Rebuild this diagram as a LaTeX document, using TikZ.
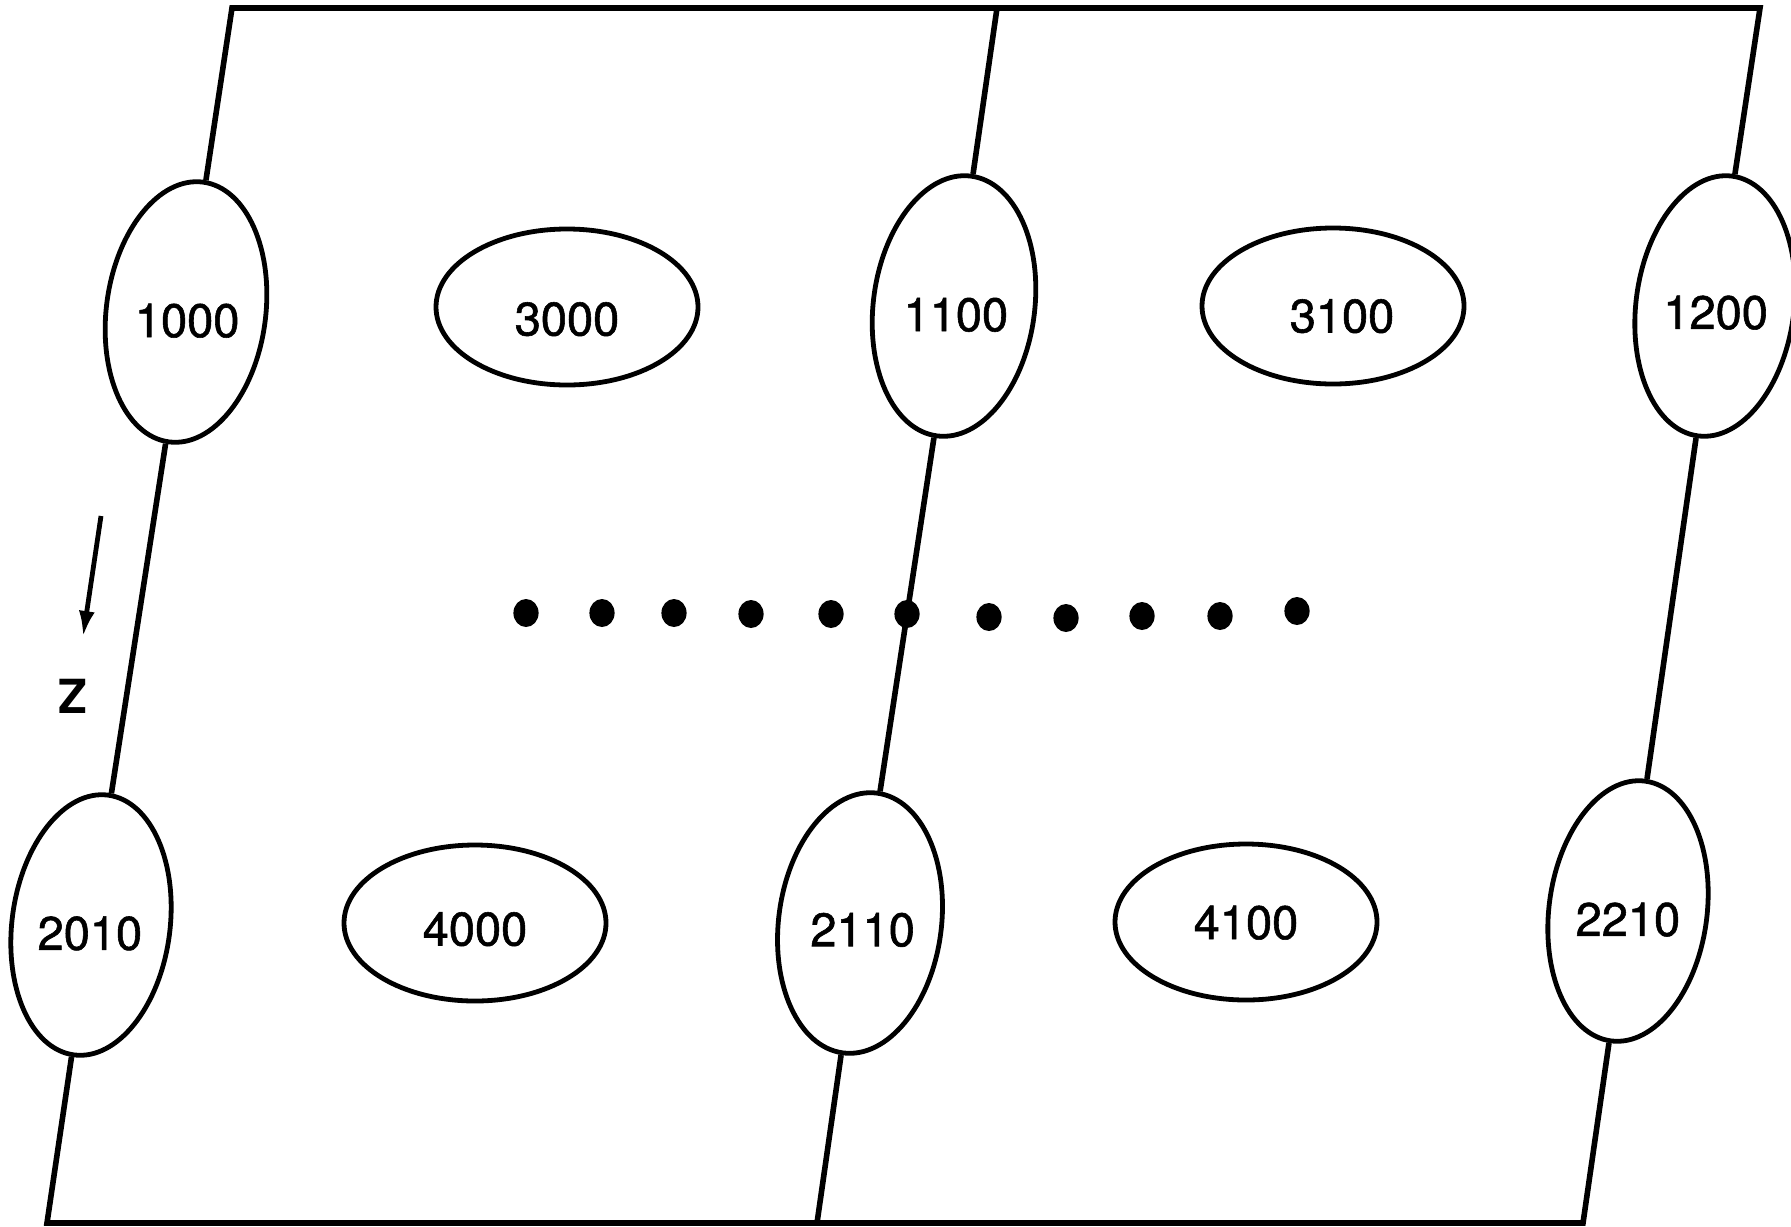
\documentclass[tikz,border=0pt]{standalone}
\usepackage{fontspec}
\setmainfont{TeX Gyre Heros}
\newfontfamily\ringfont[FakeBold=1.2]{TeX Gyre Heros}
\usetikzlibrary{arrows.meta,shapes.geometric}

% keep the numbers upright inside the tilted rings (optional nudge right)
\newcommand{\levelnum}[2][0pt]{\hspace{#1}\rotatebox{7.5}{#2}\hspace{-#1}}

\begin{document}
\begin{tikzpicture}[
  x=0.5pt, y=-0.5pt,
  every node/.style={font=\ringfont\fontsize{23.5}{26}\selectfont},
  vring/.style={ellipse, draw, line width=2.4pt, inner sep=0pt,
    minimum width=79pt, minimum height=131pt, rotate=-7.5,
    text height=31.5pt, text depth=0pt},
  hring/.style={ellipse, draw, line width=2.4pt, inner sep=0pt,
    minimum width=131pt, minimum height=78pt,
    text height=22.5pt, text depth=0pt},
  wire/.style={line width=2.8pt, line join=miter},
]
\useasboundingbox (0,0) rectangle (1791,1226);

%% Corners of the two panels
\coordinate (tl) at (232,8);
\coordinate (tm) at (997,8);
\coordinate (tr) at (1760,8);
\coordinate (bl) at (47,1223);
\coordinate (bm) at (817,1223);
\coordinate (br) at (1583,1223);

%% Rings on the panel edges
\node[vring] (e1000) at (186,312) {\levelnum[2.3pt]{1000}};
\node[vring] (e1100) at (954,306) {\levelnum[3pt]{1100}};
\node[vring, text height=29.5pt] (e1200) at (1715,306) {\levelnum[1.5pt]{1200}};
\node[vring] (e2010) at (91,925) {\levelnum{2010}};
\node[vring, text height=29.5pt] (e2110) at (860,923) {\levelnum[3.5pt]{2110}};
\node[vring] (e2210) at (1628,911) {\levelnum[1pt]{2210}};

%% Rings inside the panels
\node[hring, text height=28.5pt] (e3000) at (567,307) {3000};
\node[hring, text height=26.5pt] (e3100) at (1333,306) {\hspace{9pt}3100};
\node[hring] (e4000) at (475,923) {4000};
\node[hring, text height=17pt] (e4100) at (1246,922) {4100};

%% Panel edges
\draw[wire] (e1000) -- (tl) -- (tr) -- (e1200);
\draw[wire] (e2010) -- (bl) -- (br) -- (e2210);
\foreach \a/\b in {e1000/e2010, tm/e1100, e1100/e2110, e2110/bm, e1200/e2210}
  \draw[wire] (\a) -- (\b);

%% Row of dots
\foreach \x/\y in {526/613, 602/613, 674/613, 751/614, 831/614, 907/614,
                   989/617, 1066/618, 1142/616, 1220/616, 1297/611}
  \fill (\x,\y) ellipse [x radius=6.3pt, y radius=7pt];

%% Z direction
\coordinate (ztail) at (101,516);
\coordinate (ztip) at (83,637);
\draw[line width=2.4pt, -{Latex[length=13pt,width=8pt]}] (ztail) -- (ztip);
\node[font=\fontsize{23.5}{26}\selectfont\bfseries] (zlabel) at (73,696) {Z};

\end{tikzpicture}
\end{document}
